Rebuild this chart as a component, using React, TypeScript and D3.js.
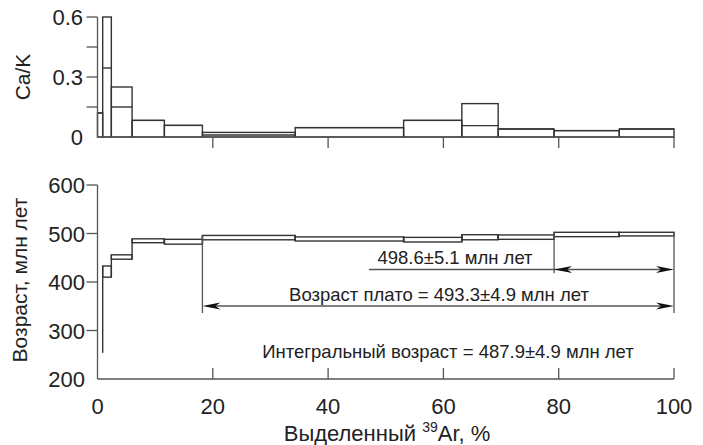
import React from 'react';
import * as d3 from 'd3';

// step boundaries, % of 39Ar released
const edges = [0, 0.9, 2.4, 6.0, 11.6, 18.2, 34.3, 53.1, 63.2, 69.5, 79.2, 90.5, 100];
// Ca/K per step (upper / lower line)
const caKHigh = [0.12, 0.6, 0.25, 0.083, 0.058, 0.023, 0.047, 0.083, 0.167, 0.04, 0.032, 0.04];
const caKLow = [0.12, 0.345, 0.15, 0.083, 0.058, 0.01, 0.047, 0.083, 0.057, 0.04, 0.032, 0.04];
// age per step, Ma (upper / lower)
const ageHigh = [254, 433, 456, 489, 488, 496, 493, 492, 497.5, 497, 502.5, 502.5];
const ageLow = [254, 410, 447, 481, 478, 487, 484.5, 482.5, 487, 488, 493.5, 495];

const xTicks = [0, 20, 40, 60, 80, 100];
const caKTicks = [0.15, 0.3, 0.45, 0.6];
const caKLabels = [0, 0.3, 0.6];
const ageTicks = [300, 400, 500, 600];
const ageLabels = [200, 300, 400, 500, 600];

const plateauFrom = 18.2;
const subPlateauFrom = 79.2;
const plateauText = 'Возраст плато = 493.3±4.9 млн лет';
const subPlateauText = '498.6±5.1 млн лет';
const integralText = 'Интегральный возраст = 487.9±4.9 млн лет';

const FONT = '"Liberation Sans", Arial, sans-serif';
const INK = '#333';
const GREY = '#555';
const TICK_FS = 22;

const App = () => {
  const x = d3.scaleLinear().domain([0, 100]).range([97.5, 674]);
  const yc = d3.scaleLinear().domain([0, 0.6]).range([137, 17]);
  const ya = d3.scaleLinear().domain([200, 600]).range([379, 185]);

  const steps = edges.slice(0, -1).map((e, i) => ({ x0: e, x1: edges[i + 1], i }));

  const arrowHead = (tx: number, ty: number, dir: number) => {
    const l = 18, w = 3.6, n = 13;
    return `M${tx},${ty}L${tx - dir * l},${ty - w}L${tx - dir * n},${ty}L${tx - dir * l},${ty + w}Z`;
  };

  const plateauY = ya(350.5);
  const subY = ya(425.8);

  return (
    <svg width={703} height={445} style={{ position: 'absolute', left: 0, top: 0, background: '#fff' }}
      fontFamily={FONT}>
      {/* ---- top panel: Ca/K ---- */}
      <g fill="none" stroke={INK} strokeWidth={1.4}>
        {steps.map(s => (
          <g key={'c' + s.i}>
            <rect x={x(s.x0)} y={yc(caKHigh[s.i])} width={x(s.x1) - x(s.x0)} height={yc(0) - yc(caKHigh[s.i])} />
            <line x1={x(s.x0)} x2={x(s.x1)} y1={yc(caKLow[s.i])} y2={yc(caKLow[s.i])} />
          </g>
        ))}
      </g>
      <g stroke={GREY} strokeWidth={1.3}>
        <line x1={x(0)} x2={x(0)} y1={yc(0.6)} y2={yc(0)} />
        <line x1={x(0)} x2={x(100)} y1={yc(0)} y2={yc(0)} />
        {caKTicks.map(t => <line key={t} x1={x(0) - 11} x2={x(0)} y1={yc(t)} y2={yc(t)} />)}
        {xTicks.filter(t => t > 0).map(t => <line key={t} x1={x(t)} x2={x(t)} y1={yc(0)} y2={yc(0) + 11} />)}
      </g>
      <g fontSize={TICK_FS} fill="#222" textAnchor="end">
        {caKLabels.map(t => <text key={t} x={83} y={yc(t) + 8}>{t === 0 ? '0' : t.toFixed(1)}</text>)}
      </g>
      <text transform={`translate(30,${yc(0.3)}) rotate(-90)`} textAnchor="middle" fontSize={21} fill="#222">Ca/K</text>

      {/* ---- bottom panel: age spectrum ---- */}
      <g fill="none" stroke={INK} strokeWidth={1.4}>
        {steps.map(s => (
          <rect key={'a' + s.i} x={x(s.x0)} y={ya(ageHigh[s.i])} width={x(s.x1) - x(s.x0)}
            height={ya(ageLow[s.i]) - ya(ageHigh[s.i])} />
        ))}
        {steps.slice(1).map(s => {
          const lo = Math.min(ageLow[s.i - 1], ageLow[s.i]);
          const hi = Math.max(ageHigh[s.i - 1], ageHigh[s.i]);
          return <line key={'k' + s.i} x1={x(s.x0)} x2={x(s.x0)} y1={ya(lo)} y2={ya(hi)} />;
        })}
      </g>
      <g stroke={GREY} strokeWidth={1.3}>
        <line x1={x(0)} x2={x(0)} y1={ya(600)} y2={ya(200)} />
        <line x1={x(0)} x2={x(100)} y1={ya(200)} y2={ya(200)} />
        {ageTicks.map(t => <line key={t} x1={x(0) - 11} x2={x(0)} y1={ya(t)} y2={ya(t)} />)}
        {xTicks.filter(t => t > 0).map(t => <line key={t} x1={x(t)} x2={x(t)} y1={ya(200)} y2={ya(200) - 11} />)}
      </g>
      <g fontSize={TICK_FS} fill="#222" textAnchor="end">
        {ageLabels.map(t => <text key={t} x={85} y={ya(t) + 8}>{t}</text>)}
      </g>
      <g fontSize={TICK_FS} fill="#222" textAnchor="middle">
        {xTicks.map(t => <text key={t} x={x(t)} y={414}>{t}</text>)}
      </g>
      <text transform={`translate(27,280) rotate(-90)`} textAnchor="middle" fontSize={21} fill="#222">Возраст, млн лет</text>
      <text x={387} y={441} textAnchor="middle" fontSize={22} fill="#222">
        Выделенный <tspan fontSize={14} dy={-9}>39</tspan><tspan dy={9}>Ar, %</tspan>
      </text>

      {/* ---- plateau annotations ---- */}
      <g stroke={GREY} strokeWidth={1.3}>
        <line x1={x(plateauFrom)} x2={x(plateauFrom)} y1={ya(ageHigh[5])} y2={ya(336)} />
        <line x1={x(100)} x2={x(100)} y1={ya(ageHigh[11])} y2={ya(336)} />
        <line x1={x(subPlateauFrom)} x2={x(subPlateauFrom)} y1={ya(ageHigh[10])} y2={ya(418)} />
        <line x1={x(plateauFrom) + 10} x2={x(100) - 10} y1={plateauY} y2={plateauY} />
        <line x1={x(47.1)} x2={x(100) - 10} y1={subY} y2={subY} />
      </g>
      <g fill="#111">
        <path d={arrowHead(x(plateauFrom), plateauY, -1)} />
        <path d={arrowHead(x(100), plateauY, 1)} />
        <path d={arrowHead(x(subPlateauFrom), subY, -1)} />
        <path d={arrowHead(x(100), subY, 1)} />
      </g>
      <g fontSize={18.5} fill="#222" textAnchor="middle">
        <text x={439} y={plateauY - 5.5}>{plateauText}</text>
        <text x={455} y={subY - 5.5}>{subPlateauText}</text>
        <text x={448} y={358}>{integralText}</text>
      </g>
    </svg>
  );
};

export default App;
